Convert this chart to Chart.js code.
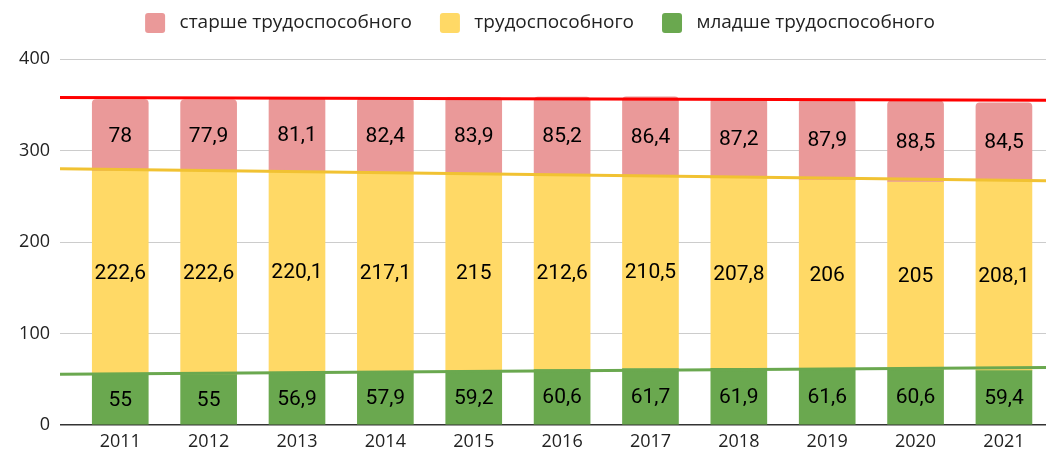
<!DOCTYPE html>
<html>
<head>
<meta charset="utf-8">
<script src="https://cdn.jsdelivr.net/npm/chart.js@4/dist/chart.umd.min.js"></script>
<style>
  html, body { margin: 0; padding: 0; background: #fff; }
  #wrap { width: 1046px; height: 453px; }
</style>
</head>
<body>
<div id="wrap"><canvas id="chart1"></canvas></div>
<script>
const years = ['2011', '2012', '2013', '2014', '2015', '2016', '2017', '2018', '2019', '2020', '2021'];
const older = [78, 77.9, 81.1, 82.4, 83.9, 85.2, 86.4, 87.2, 87.9, 88.5, 84.5];
const working = [222.6, 222.6, 220.1, 217.1, 215, 212.6, 210.5, 207.8, 206, 205, 208.1];
const younger = [55, 55, 56.9, 57.9, 59.2, 60.6, 61.7, 61.9, 61.6, 60.6, 59.4];
// trend lines, start and end values
const trendOlder = [358, 355];
const trendWorking = [280, 267];
const trendYounger = [55.5, 62.8];
const yTicks = [0, 100, 200, 300, 400];

const X_MIN = -0.682;
const X_MAX = 10.476;

const toPoints = (arr) => arr.map((v, i) => ({ x: i, y: v }));
const trendPoints = (arr) => [{ x: X_MIN, y: arr[0] }, { x: X_MAX, y: arr[1] }];
const fmt = (v) => String(v).replace('.', ',');

// labels inside bars
const barLabels = {
  id: 'barLabels',
  afterDatasetsDraw(chart) {
    const ctx = chart.ctx;
    ctx.save();
    ctx.font = '21px Roboto';
    ctx.fillStyle = '#000';
    ctx.textAlign = 'center';
    ctx.textBaseline = 'middle';
    chart.data.datasets.forEach((ds, di) => {
      if (ds.type !== 'bar') return;
      const meta = chart.getDatasetMeta(di);
      meta.data.forEach((bar, i) => {
        const mid = (bar.y + bar.base) / 2;
        ctx.fillText(fmt(ds.data[i].y), bar.x, mid + 1);
      });
    });
    ctx.restore();
  }
};

const legendFix = {
  id: 'legendFix',
  beforeInit(chart) {
    const fit = chart.legend.fit;
    chart.legend.fit = function () {
      fit.bind(chart.legend)();
      this.height = 74;
    };
  },
  afterLayout(chart) {
    chart.legend.left += 17;
    chart.legend.right += 17;
  }
};

document.addEventListener('DOMContentLoaded', () => {
  createChart1();
});

const createChart1 = () => {
  const ctx = document.getElementById('chart1').getContext('2d');

  const data = {
    datasets: [
      {
        type: 'bar',
        label: 'младше трудоспособного',
        data: toPoints(younger),
        backgroundColor: '#6aa84f',
        barThickness: 56,
        stack: 'main',
        order: 1
      },
      {
        type: 'bar',
        label: 'трудоспособного',
        data: toPoints(working),
        backgroundColor: '#ffd966',
        barThickness: 56,
        stack: 'main',
        order: 1
      },
      {
        type: 'bar',
        label: 'старше трудоспособного',
        data: toPoints(older),
        backgroundColor: '#ea9999',
        borderRadius: { topLeft: 4, topRight: 4 },
        borderSkipped: 'bottom',
        barThickness: 56,
        stack: 'main',
        order: 1
      },
      {
        type: 'line',
        label: 'trend1',
        data: trendPoints(trendOlder),
        borderColor: '#ff0000',
        borderWidth: 3,
        pointRadius: 0,
        stack: 't1',
        order: 0
      },
      {
        type: 'line',
        label: 'trend2',
        data: trendPoints(trendWorking),
        borderColor: '#f1c232',
        borderWidth: 3,
        pointRadius: 0,
        stack: 't2',
        order: 0
      },
      {
        type: 'line',
        label: 'trend3',
        data: trendPoints(trendYounger),
        borderColor: '#6aa84f',
        borderWidth: 3,
        pointRadius: 0,
        stack: 't3',
        order: 0
      }
    ]
  };

  const config = {
    data: data,
    options: {
      responsive: true,
      maintainAspectRatio: false,
      animation: false,
      layout: { padding: { left: 0, right: 0, top: -15, bottom: 0 } },
      plugins: {
        legend: {
          position: 'top',
          reverse: true,
          labels: {
            filter: (item) => !item.text.trim().startsWith('trend'),
            generateLabels: (chart) => Chart.defaults.plugins.legend.labels.generateLabels(chart)
              .map(item => Object.assign(item, { text: ' ' + item.text })),
            boxWidth: 20,
            boxHeight: 20,
            useBorderRadius: true,
            borderRadius: 3,
            padding: 28,
            color: '#222',
            font: { family: 'Open Sans', size: 19 }
          }
        },
        tooltip: { enabled: false }
      },
      scales: {
        x: {
          type: 'linear',
          stacked: true,
          offset: false,
          min: X_MIN,
          max: X_MAX,
          afterBuildTicks: (scale) => { scale.ticks = years.map((y, i) => ({ value: i })); },
          afterFit: (scale) => { scale.paddingLeft = 0; scale.paddingRight = 0; scale.height = 28; },
          ticks: {
            callback: (v) => years[v],
            color: '#222',
            padding: 6,
            font: { family: 'Open Sans', size: 18 },
            maxRotation: 0
          },
          grid: { display: false, drawTicks: false },
          border: { display: false }
        },
        y: {
          stacked: true,
          min: 0,
          max: 400,
          afterBuildTicks: (scale) => { scale.ticks = yTicks.map(v => ({ value: v })); },
          afterFit: (scale) => { scale.width = 60; scale.paddingTop = 0; scale.paddingBottom = 0; },
          ticks: {
            color: '#222',
            padding: 10,
            font: { family: 'Open Sans', size: 18 }
          },
          grid: {
            drawTicks: false,
            color: (c) => c.tick && c.tick.value === 0 ? '#333' : '#cccccc',
            lineWidth: (c) => c.tick && c.tick.value === 0 ? 1.5 : 1
          },
          border: { display: false }
        }
      }
    },
    plugins: [barLabels, legendFix]
  };

  const newChart = new Chart(ctx, config);
};
</script>
</body>
</html>
